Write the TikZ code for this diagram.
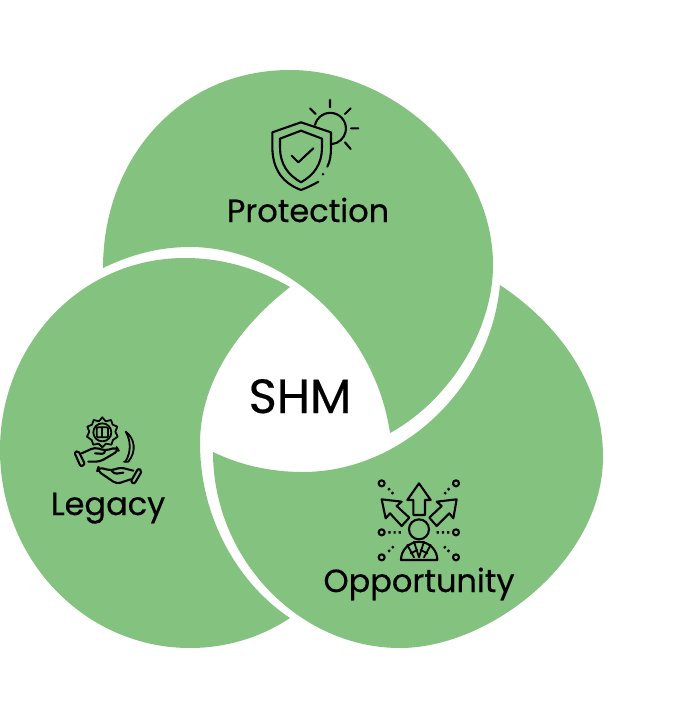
\documentclass[tikz,border=0pt]{standalone}
\usepackage{fontspec}
\setmainfont{Poppins}[FakeBold=0.45]
\definecolor{leaf}{HTML}{84C27F}
\tikzset{
  petal/.style={fill=leaf,draw=none},
  big/.style={font=\fontsize{48}{50}\selectfont,inner sep=0pt,text=black,anchor=base},
  lab/.style={font=\fontsize{32}{34}\selectfont,inner sep=0pt,text=black,anchor=base},
  icon/.style={draw=black,line width=2.1pt,line join=round,line cap=round,fill=none},
  iconthin/.style={icon,line width=1.8pt},
  dots/.style={draw=black,line width=2.4pt,dash pattern=on 2.2pt off 3pt}
}
\begin{document}
\begin{tikzpicture}[x=1pt,y=-1pt]
\useasboundingbox (0,0) rectangle (673,722);
% Protection petal
\fill[petal] (103,268) .. controls (103,158) and (180,70) .. (290,70)
 .. controls (392,70) and (493,160) .. (493,265)
 .. controls (493,330) and (450,400) .. (390,433)
 .. controls (375,330) and (285,247) .. (190,247)
 .. controls (158,247) and (130,255) .. (103,268) -- cycle;
% Opportunity petal
\fill[petal] (213,452) .. controls (213,560) and (300,648) .. (400,648)
 .. controls (490,648) and (603,560) .. (603,457)
 .. controls (603,385) and (560,325) .. (500,285)
 .. controls (490,390) and (400,472) .. (303,472)
 .. controls (270,472) and (240,465) .. (213,452) -- cycle;
% Legacy petal
\fill[petal] (290,618) .. controls (260,638) and (225,648) .. (190,648)
 .. controls (85,648) and (0,560) .. (0,450)
 .. controls (0,345) and (80,258) .. (185,258)
 .. controls (225,258) and (260,270) .. (290,287)
 .. controls (235,330) and (200,385) .. (200,443)
 .. controls (200,520) and (240,585) .. (290,618) -- cycle;
% Texts
\node[big] (shm) at (300,413) {SHM};
\node[lab] (prot) at (308,222) {Protection};
\node[lab] (leg) at (108,515) {Legacy};
\node[lab] (opp) at (419,592) {Opportunity};
% Protection icon (sun and shield)
\begin{scope}[shift={(220,90)},x=0.3333pt,y=-0.3333pt]
\draw[icon] (285,105) arc[start angle=-167,end angle=84,radius=47];
\draw[icon] (330,30)--(330,52) (375,72)--(392,55) (393,115)--(415,115) (375,157)--(392,177) (270,55)--(287,72);
\draw[icon] (295,275) .. controls (270,290) and (255,295) .. (243,300) .. controls (190,280) and (157,240) .. (157,170) -- (157,127) -- (243,97) -- (333,127) -- (333,175) .. controls (333,195) and (330,215) .. (322,230);
\fill (309,253) circle[radius=4];
\draw[icon] (243,122) -- (180,146) -- (180,170) .. controls (180,225) and (205,255) .. (243,277) .. controls (281,255) and (306,225) .. (306,170) -- (306,146) -- cycle;
\draw[icon] (215,197) -- (235,217) -- (280,175);
\end{scope}
% Legacy icon (gear, hands)
\begin{scope}[shift={(40,410)},x=0.3333pt,y=-0.3333pt]
\draw[iconthin] (187,22) -- (197,34) -- (213,30) -- (218,44) -- (232,50) -- (226,65) -- (233,80) -- (219,90) -- (214,104) -- (198,101) -- (187,112) -- (176,101) -- (160,104) -- (155,90) -- (141,80) -- (148,65) -- (142,50) -- (156,44) -- (161,30) -- (177,34) -- cycle;
\draw[iconthin] (187,67) circle[radius=27];
\draw[iconthin,rounded corners=1pt] (170,52) rectangle (204,82);
\draw[iconthin] (187,52)--(187,82);
\draw[iconthin] (257,65) .. controls (285,85) and (290,125) .. (265,155) -- (252,155);
\draw[iconthin] (257,65) .. controls (272,90) and (275,125) .. (256,155);
\draw[icon,rounded corners=2pt] (103,127) -- (115,122) -- (135,163) -- (122,170) -- cycle;
\draw[icon,rounded corners=4pt] (125,130) -- (165,112) -- (195,122) -- (230,112) -- (236,122) -- (180,155) -- (145,155);
\draw[icon,rounded corners=3pt] (165,130) -- (195,132) -- (195,122);
\draw[icon,rounded corners=2pt] (295,175) -- (306,183) -- (283,222) -- (272,215) -- cycle;
\draw[icon,rounded corners=4pt] (280,182) -- (240,172) -- (215,182) -- (175,172) -- (172,182) -- (230,222) -- (272,208);
\draw[icon,rounded corners=3pt] (215,182) -- (222,192) -- (250,188);
\end{scope}
% Opportunity icon (person and arrows)
\begin{scope}[shift={(320,470)},x=0.3333pt,y=-0.3333pt]
\draw[icon] (297,40) -- (262,90) -- (280,90) -- (280,135) -- (315,135) -- (315,90) -- (332,90) -- cycle;
\draw[icon] (185,88) -- (197,145) -- (210,130) -- (245,168) -- (268,143) -- (230,108) -- (245,95) -- cycle;
\draw[icon] (410,88) -- (350,95) -- (365,108) -- (328,143) -- (350,168) -- (388,130) -- (400,145) -- cycle;
\draw[icon] (297,178) circle[radius=30];
\draw[icon] (243,270) arc[start angle=180,end angle=360,radius=54.5] -- cycle;
\draw[iconthin] (282,215) -- (297,262) -- (312,215) (262,225) -- (282,262) (332,225) -- (312,262) (272,250) -- (292,240) (322,250) -- (302,240);
\foreach \px/\py in {185/40,408/40,185/187,408/187,185/262,408/262}
  \draw[icon] (\px,\py) circle[radius=9];
\draw[dots] (205,55)--(225,78) (388,55)--(368,78) (205,187)--(245,187) (388,187)--(350,187) (205,245)--(225,225) (388,245)--(368,225);
\end{scope}
\end{tikzpicture}
\end{document}
